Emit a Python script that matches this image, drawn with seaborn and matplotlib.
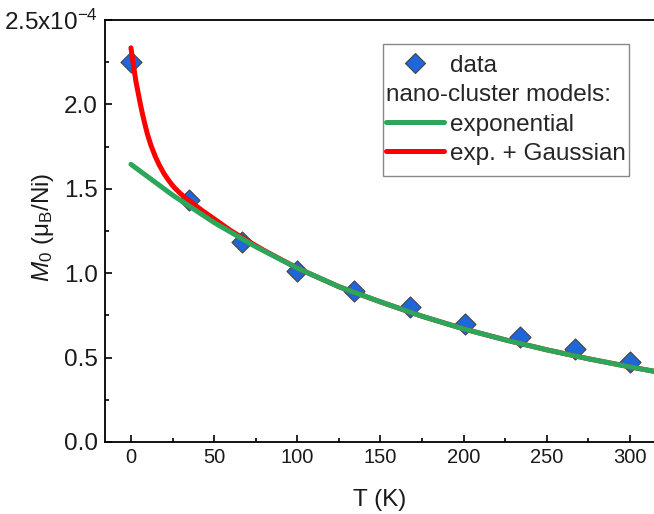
import matplotlib
matplotlib.use("Agg")
import matplotlib.pyplot as plt
import seaborn as sns
import pandas as pd
from matplotlib.lines import Line2D
from matplotlib.offsetbox import DrawingArea
from matplotlib.ticker import AutoMinorLocator, FixedLocator, FixedFormatter

# ---- data (M0 in units of 1e-4 muB/Ni) ----
T_data = [0, 35, 67, 100, 134, 168, 201, 234, 267, 300]
M_data = [2.25, 1.435, 1.185, 1.015, 0.895, 0.80, 0.70, 0.62, 0.55, 0.475]

T_exp = [0, 25, 50, 75, 100, 125, 150, 175, 200, 225, 250, 275, 300, 315]
M_exp = [1.645, 1.463, 1.30, 1.157, 1.03, 0.92, 0.83, 0.745, 0.67, 0.605,
         0.546, 0.493, 0.445, 0.418]

T_gauss = [0, 1, 2, 3, 4.6, 5.8, 7, 8.5, 10, 12, 14.6, 17, 20, 23, 26, 29.5,
           33, 39, 43, 50, 60, 70, 80, 100, 125, 150, 175, 200, 225, 250, 275,
           300, 315]
M_gauss = [2.335, 2.265, 2.20, 2.135, 2.055, 1.995, 1.94, 1.878, 1.82, 1.758,
           1.692, 1.641, 1.588, 1.545, 1.508, 1.474, 1.445, 1.40, 1.37, 1.322,
           1.252, 1.192, 1.135, 1.03, 0.92, 0.83, 0.745, 0.67, 0.605, 0.546,
           0.493, 0.445, 0.418]

y_ticks = [0.0, 0.5, 1.0, 1.5, 2.0, 2.5]
y_tick_labels = ["0.0", "0.5", "1.0", "1.5", "2.0", r"2.5x10$^{\mathregular{-4}}$"]
x_ticks = [0, 50, 100, 150, 200, 250, 300]
SCALE = 1e-4

df_data = pd.DataFrame({"T": T_data, "M": [v * SCALE for v in M_data]})
df_exp = pd.DataFrame({"T": T_exp, "M": [v * SCALE for v in M_exp]})
df_gauss = pd.DataFrame({"T": T_gauss, "M": [v * SCALE for v in M_gauss]})

sns.set_theme(style="ticks")
plt.rcParams["font.family"] = ["Liberation Sans", "DejaVu Sans"]
plt.rcParams["mathtext.fontset"] = "custom"
plt.rcParams["mathtext.rm"] = "Liberation Sans"
plt.rcParams["mathtext.it"] = "Liberation Sans:italic"
plt.rcParams["mathtext.bf"] = "Liberation Sans:bold"

W, H = 654, 514
fig = plt.figure(figsize=(W / 100, H / 100), dpi=100)
ax = fig.add_axes([105 / W, 72 / H, 549 / W, 422 / H])

blue = "#1f66d8"
green = "#2ba65a"
red = "#ff0000"

sns.scatterplot(data=df_data, x="T", y="M", marker="D", s=115, color=blue,
                edgecolor="#444444", linewidth=0.8, ax=ax, zorder=2, legend=False)
sns.lineplot(data=df_gauss, x="T", y="M", color=red, linewidth=3.6, ax=ax,
             sort=False, zorder=3, legend=False)
sns.lineplot(data=df_exp, x="T", y="M", color=green, linewidth=3.6, ax=ax,
             sort=False, zorder=4, legend=False)

ax.set_xlim(-15.6, 314.4)
ax.set_ylim(0, 2.5e-4)
ax.xaxis.set_major_locator(FixedLocator(x_ticks))
ax.xaxis.set_minor_locator(AutoMinorLocator(2))
ax.yaxis.set_major_locator(FixedLocator([v * SCALE for v in y_ticks]))
ax.yaxis.set_major_formatter(FixedFormatter(y_tick_labels))
ax.yaxis.set_minor_locator(AutoMinorLocator(2))

for side in ["left", "bottom", "top"]:
    ax.spines[side].set_color("black")
    ax.spines[side].set_linewidth(1.3)
ax.spines["right"].set_visible(False)
ax.tick_params(which="major", direction="in", length=5, width=1.2,
               color="black", labelcolor="#1a1a1a")
ax.tick_params(which="minor", direction="in", length=3, width=1.2, color="black")
ax.tick_params(axis="x", which="major", labelsize=14.5, pad=4)
ax.tick_params(axis="y", which="major", labelsize=17.5, pad=5)
ax.tick_params(top=False, right=False, which="both")

ax.set_xlabel("T (K)", fontsize=17.5, color="#1a1a1a")
ax.xaxis.set_label_coords(0.5, -0.112)
ax.set_ylabel(r"$M_{\mathregular{0}}$ ($\mathregular{\mu_B}$/Ni)", fontsize=17.5,
              color="#1a1a1a")
ax.yaxis.set_label_coords(-0.09, 0.509)

handles = [
    Line2D([], [], linestyle="none", marker="D", markersize=10.5,
           markerfacecolor=blue, markeredgecolor="#444444", markeredgewidth=0.8),
    Line2D([], [], linestyle="none"),
    Line2D([], [], color=green, linewidth=3.6),
    Line2D([], [], color=red, linewidth=3.6),
]
labels = ["data", "nano-cluster models:", "exponential", "exp. + Gaussian"]
leg = ax.legend(handles, labels, loc="upper left", bbox_to_anchor=(0.506, 0.943),
                borderaxespad=0, fontsize=17.5, frameon=True, fancybox=False,
                edgecolor="#888888", framealpha=1, handlelength=2.35,
                handletextpad=0.25, borderpad=0.15, labelspacing=0.3)
leg.get_frame().set_linewidth(1.0)
column = leg._legend_handle_box.get_children()[0]
rows = column.get_children()
row = rows[1]
row.get_children()[0].width = 0
row.sep = 0
# extra vertical padding above and below the rows
rows.insert(0, DrawingArea(0, 0))
rows.append(DrawingArea(0, 0))

fig.savefig("out.png", dpi=100)
